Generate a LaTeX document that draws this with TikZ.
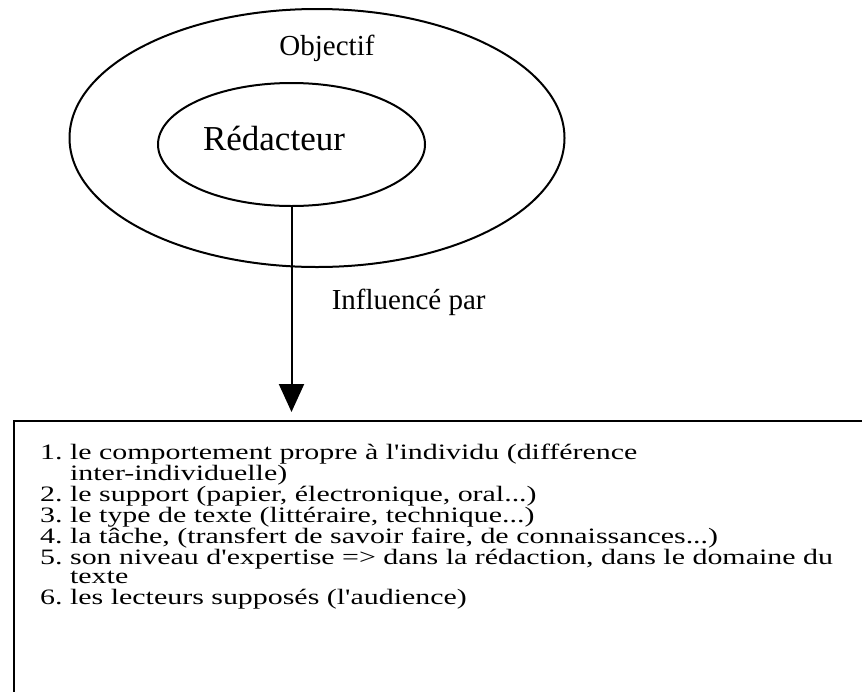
\documentclass[tikz,border=0pt]{standalone}
\usepackage{fontspec}
\setmainfont{Liberation Serif}[Ligatures=TeXOff]
\newfontfamily\listefont{Liberation Serif}[Ligatures=TeXOff, FakeStretch=1.36]
\usetikzlibrary{positioning, shapes.geometric, arrows.meta}
\tikzset{
x=1pt, y=-1pt, % one unit is one pixel, y goes down
every node/.style={font=\fontsize{29}{33}\selectfont}, % default text size
bulle/.style={draw, ellipse, line width=2pt}, % the two ellipses
boite/.style={draw, rectangle, line width=2pt, anchor=north west}, % the list frame
fleche/.style={-{Triangle[width=25pt, length=28pt]}, line width=2pt}, % the big arrow
}

\begin{document}
\begin{tikzpicture}
        \useasboundingbox (0,0) rectangle (862,691);
        \clip (0,0) rectangle (862,691);
        \node[bulle, minimum width=495pt, minimum height=258pt] (objectif) at (317,138) {};
        \node[bulle, minimum width=267pt, minimum height=123pt] (redacteur) at (291.5,144.5) {};
        \node[anchor=base] (titre) at (327,55) {Objectif};
        \node[anchor=base, font=\fontsize{35}{40}\selectfont] (nom) at (274,150) {Rédacteur};
        \node[boite, minimum width=900pt, minimum height=320pt] (boite) at (13,420) {};
        \node[anchor=base west, inner sep=0pt] (liste) at (40,459) {\listefont\fontsize{22}{19.2}\selectfont
                \begin{tabular}[t]{@{}l@{\ }l@{}}
                1. & le comportement propre à l'individu (différence \\
                   & inter-individuelle) \\
                2. & le support (papier, électronique, oral...) \\
                3. & le type de texte (littéraire, technique...) \\
                4. & la tâche, (transfert de savoir faire, de connaissances...) \\
                5. & son niveau d'expertise => dans la rédaction, dans le domaine du \\
                   & texte \\
                6. & les lecteurs supposés (l'audience)
                \end{tabular}};
        \draw[fleche, shorten >=8pt] (redacteur.south) -- (redacteur.south |- boite.north)
                node[pos=0.45, right=36pt, anchor=west] (influence) {Influencé par};
\end{tikzpicture}
\end{document}
